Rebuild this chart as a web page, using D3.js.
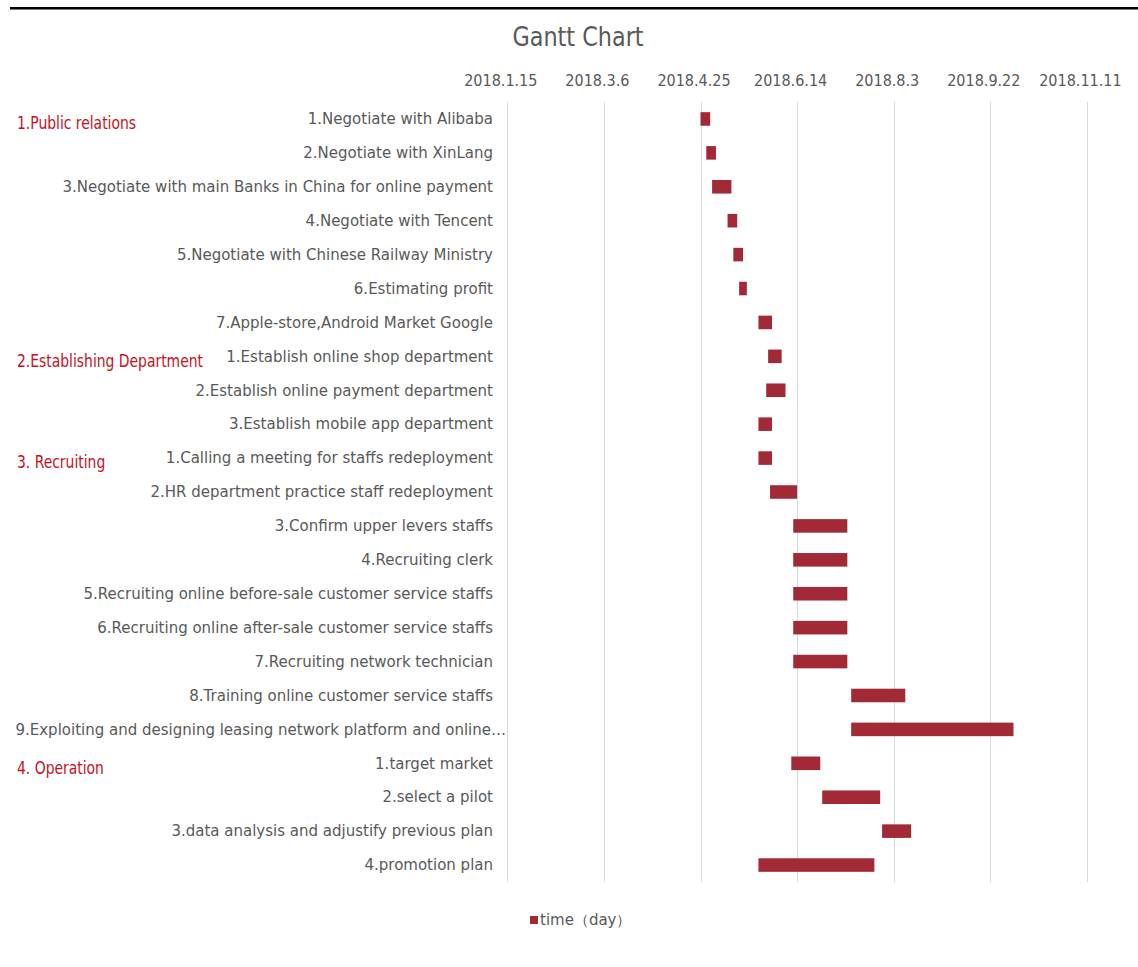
<!DOCTYPE html>
<html>
<head>
<meta charset="utf-8">
<script src="https://cdn.jsdelivr.net/npm/d3@7"></script>
<style>
  html, body { margin: 0; padding: 0; background: #fff; }
  svg { display: block; }
</style>
</head>
<body>
<svg id="chart" width="1138" height="967"></svg>
<script>
// ---- data ----
const tasks = [
  "1.Negotiate with Alibaba",
  "2.Negotiate with XinLang",
  "3.Negotiate with main Banks in China for online payment",
  "4.Negotiate with Tencent",
  "5.Negotiate with Chinese Railway Ministry",
  "6.Estimating profit",
  "7.Apple-store,Android Market Google",
  "1.Establish online shop department",
  "2.Establish online payment department",
  "3.Establish mobile app department",
  "1.Calling a meeting for staffs redeployment",
  "2.HR department practice staff redeployment",
  "3.Confirm upper levers staffs",
  "4.Recruiting clerk",
  "5.Recruiting online before-sale customer service staffs",
  "6.Recruiting online after-sale customer service staffs",
  "7.Recruiting network technician",
  "8.Training online customer service staffs",
  "9.Exploiting and designing leasing network platform and online\u2026",
  "1.target market",
  "2.select a pilot",
  "3.data analysis and adjustify previous plan",
  "4.promotion plan"
];
const startDates = [
  "2018-04-25", "2018-04-28", "2018-05-01", "2018-05-09", "2018-05-12", "2018-05-15", "2018-05-25",
  "2018-05-30", "2018-05-29", "2018-05-25",
  "2018-05-25", "2018-05-31", "2018-06-12", "2018-06-12", "2018-06-12", "2018-06-12", "2018-06-12",
  "2018-07-12", "2018-07-12",
  "2018-06-11", "2018-06-27", "2018-07-28", "2018-05-25"
];
const durations = [5, 5, 10, 5, 5, 4, 7, 7, 10, 7, 7, 14, 28, 28, 28, 28, 28, 28, 84, 15, 30, 15, 60];
const phases = ["1.Public relations", "2.Establishing Department", "3. Recruiting", "4. Operation"];
const phaseStartRow = [0, 7, 10, 19];
const tickLabels = ["2018.1.15", "2018.3.6", "2018.4.25", "2018.6.14", "2018.8.3", "2018.9.22", "2018.11.11"];
const seriesName = "time\uFF08day\uFF09";
const chartTitle = "Gantt Chart";

// ---- drawing ----
const svg = d3.select("#chart");
const parseISO = d3.utcParse("%Y-%m-%d");
const parseTick = d3.utcParse("%Y.%m.%d");
const tickDates = tickLabels.map(parseTick);

const plotLeft = 507.3, plotRight = 1086.9, plotTop = 102, plotBottom = 882;
const x = d3.scaleUtc()
  .domain([tickDates[0], tickDates[tickDates.length - 1]])
  .range([plotLeft, plotRight]);
const y = d3.scaleBand()
  .domain(d3.range(tasks.length))
  .range([plotTop, plotBottom])
  .paddingInner(0.6)
  .paddingOuter(0.3);

const barColor = "#a22a37";
const textGray = "#595959";
const condensed = "'Liberation Sans Narrow', 'DejaVu Sans Condensed', 'Liberation Sans', sans-serif";

// top rule
svg.append("rect").attr("x", 10).attr("y", 7).attr("width", 1128).attr("height", 2).attr("fill", "#000");
svg.append("rect").attr("x", 10).attr("y", 9).attr("width", 1128).attr("height", 1).attr("fill", "#777");

// title
svg.append("text")
  .attr("transform", "translate(578,46) scale(0.92,1)")
  .attr("text-anchor", "middle")
  .attr("font-family", condensed)
  .attr("font-size", 27)
  .attr("fill", textGray)
  .text(chartTitle);

// gridlines
svg.append("g")
  .selectAll("line")
  .data(tickDates)
  .join("line")
  .attr("x1", d => Math.round(x(d)) + 0.5)
  .attr("x2", d => Math.round(x(d)) + 0.5)
  .attr("y1", plotTop).attr("y2", plotBottom)
  .attr("stroke", "#d9d9d9").attr("stroke-width", 1);

// top axis labels
const axis = d3.axisTop(x)
  .tickValues(tickDates)
  .tickSize(0)
  .tickPadding(0)
  .tickFormat((d, i) => tickLabels[i]);
const gAxis = svg.append("g").attr("transform", "translate(0,86)").call(axis);
gAxis.select(".domain").remove();
gAxis.selectAll("text")
  .attr("dx", -7)
  .attr("font-family", condensed)
  .attr("font-size", 16)
  .attr("fill", textGray);

// bars
svg.append("g")
  .selectAll("rect")
  .data(tasks.map((t, i) => ({ i, start: parseISO(startDates[i]), dur: durations[i] })))
  .join("rect")
  .attr("x", d => x(d.start))
  .attr("y", d => y(d.i))
  .attr("width", d => x(d3.utcDay.offset(d.start, d.dur)) - x(d.start))
  .attr("height", y.bandwidth())
  .attr("fill", barColor);

// task labels
svg.append("g")
  .selectAll("text")
  .data(tasks)
  .join("text")
  .attr("x", d => d.endsWith("\u2026") ? 506 : 493)
  .attr("y", (d, i) => y(i) + y.bandwidth() / 2)
  .attr("dy", "0.35em")
  .attr("text-anchor", "end")
  .attr("font-family", "'DejaVu Sans', sans-serif")
  .attr("font-size", 15)
  .attr("fill", textGray)
  .text(d => d);

// phase labels
svg.append("g")
  .selectAll("text")
  .data(phases)
  .join("text")
  .attr("transform", (d, i) => `translate(17,${y(phaseStartRow[i]) + y.bandwidth() / 2 + 4}) scale(0.86,1)`)
  .attr("dy", "0.35em")
  .attr("font-family", condensed)
  .attr("font-size", 18)
  .attr("fill", "#c8101e")
  .text(d => d);

// legend
const lg = svg.append("g").attr("transform", "translate(530,920)");
lg.append("rect").attr("x", 0).attr("y", -4).attr("width", 8).attr("height", 8).attr("fill", barColor);
lg.append("text")
  .attr("x", 10).attr("y", 0).attr("dy", "0.35em")
  .attr("font-family", "'DejaVu Sans', sans-serif")
  .attr("font-size", 15)
  .attr("fill", textGray)
  .text(seriesName);
</script>
</body>
</html>
